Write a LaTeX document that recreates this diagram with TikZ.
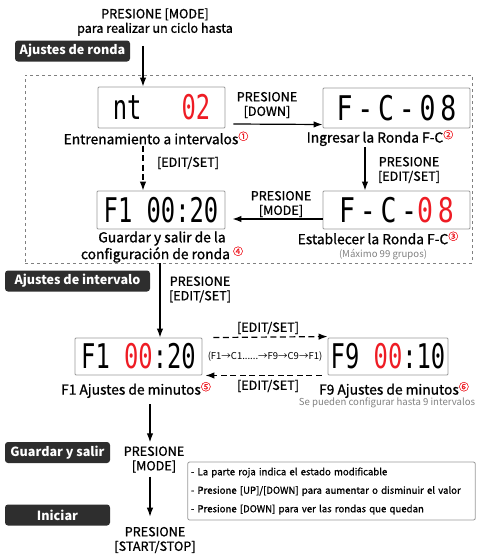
\documentclass[tikz,border=0pt]{standalone}
\usepackage{fontspec}
\setmainfont{Noto Sans CJK SC}
\newfontfamily\medfont[FakeBold=1]{Noto Sans CJK SC}
\newfontfamily\lcd[FakeStretch=0.7]{DejaVu Sans Mono}
\newfontfamily\lcdwide[FakeStretch=0.78,LetterSpace=14]{DejaVu Sans Mono}
\usepackage{tikz}
\usetikzlibrary{positioning,arrows.meta}

\definecolor{lcdred}{HTML}{EE1C24}
\definecolor{tagbg}{HTML}{2E2E2E}
\newcommand{\num}[1]{\textcolor{lcdred}{\raisebox{0.55ex}{\fontsize{10}{10}\selectfont #1}}}
\newcommand{\rd}[1]{\textcolor{lcdred}{#1}}

\tikzset{
  lbl/.style={font=\fontsize{13.8}{15}\selectfont\medfont, align=center, inner sep=1pt},
  press/.style={font=\fontsize{12.6}{14.5}\selectfont\medfont, align=center, inner sep=1pt},
  tag/.style={fill=tagbg, text=white, rounded corners=3pt, font=\fontsize{12.6}{14}\selectfont\bfseries, inner xsep=4pt, minimum height=21pt},
  lcdbox/.style={draw=gray!80, line width=0.9pt, rounded corners=1pt, inner sep=2pt},
  small/.style={font=\fontsize{9.6}{10}\selectfont, text=gray, inner sep=1pt},
  arr/.style={-{Latex[length=9pt,width=6.5pt]}, line width=1.2pt},
  darr/.style={arr, dash pattern=on 6pt off 3.5pt},
}

\begin{document}
\begin{tikzpicture}[x=1pt, y=-1pt]
\useasboundingbox (0,0) rectangle (481,554);
% round settings
\node[press] (top) at (155,22) {PRESIONE [MODE]\\para realizar un ciclo hasta};
\node[tag, minimum width=115pt] (ronda) at (72.5,51) {Ajustes de ronda};
\node[draw=gray, dashed, line width=0.7pt, minimum width=447pt, minimum height=188pt] (grp) at (248.5,169) {};

\node[lcdbox, minimum width=127pt, minimum height=41pt] (d1) at (161.5,107.5) {\fontsize{34}{34}\lcd nt\hspace{40pt}\rd{02}};
\node[lcdbox, minimum width=147pt, minimum height=40pt] (d2) at (396.5,108) {\fontsize{34}{34}\lcdwide F-C-08};
\node[lcdbox, minimum width=128pt, minimum height=38pt] (d3) at (161,210) {\fontsize{34}{34}\lcd F1 00:20};
\node[lcdbox, minimum width=147pt, minimum height=38pt] (d4) at (396.5,210) {\fontsize{34}{34}\lcdwide F-C-\rd{08}};

\node[lbl] (lab1) at (156,138) {Entrenamiento a intervalos\num{①}};
\node[lbl] (lab2) at (380,138) {Ingresar la Ronda F-C\num{②}};
\node[lbl] (lab3) at (378,238) {Establecer la Ronda F-C\num{③}};
\node[lbl] (lab4) at (162,247) {Guardar y salir de la\\configuración de ronda \num{④}};
\node[small] (max99) at (383,255) {(Máximo 99 grupos)};

\node[press] (pdown) at (267,105) {PRESIONE\\{}[DOWN]};
\node[press] (edit1) at (188,163) {[EDIT/SET]};
\node[press] (pedit) at (409,170) {PRESIONE\\{}[EDIT/SET]};
\node[press] (pmode) at (281,204) {PRESIONE\\{}[MODE]};

\coordinate (c1) at (143,0);
\coordinate (c2) at (365,0);
\draw[arr] (top.south -| c1) ++(0,9) -- (d1.north -| c1);
\draw[arr] ([xshift=8pt,yshift=-16.5pt]d1.east) -- ([yshift=-16.5pt]d2.west);
\draw[darr] (lab1.south -| c1) -- (d3.north -| c1);
\draw[arr] (lab2.south -| c2) -- (d4.north -| c2);
\draw[arr] ([yshift=-9pt]d4.west) -- ([xshift=7pt,yshift=-9pt]d3.east);

% interval settings
\node[tag, minimum width=145pt] (intv) at (77.5,281) {Ajustes de intervalo};
\node[press] (pedit2) at (200,289.5) {PRESIONE\\{}[EDIT/SET]};

\node[lcdbox, minimum width=127pt, minimum height=37pt] (d5) at (138.5,356.5) {\fontsize{34}{34}\lcd F1 \rd{00}:20};
\node[lcdbox, minimum width=120pt, minimum height=37pt] (d6) at (388,356.5) {\fontsize{34}{34}\lcd F9 \rd{00}:10};

\node[press] (edit2) at (268,328) {[EDIT/SET]};
\node[font=\fontsize{9.5}{10}\selectfont, inner sep=1pt] (cyc) at (265,357) {(F1→C1......→F9→C9→F1)};
\node[press] (edit3) at (268,386) {[EDIT/SET]};
\node[lbl] (lab5) at (136,390) {F1 Ajustes de minutos\num{⑤}};
\node[lbl] (lab6) at (394,390) {F9 Ajustes de minutos\num{⑥}};
\node[small] (se9) at (387,403) {Se pueden configurar hasta 9 intervalos};

\coordinate (c3) at (160,0);
\draw[arr] (grp.south -| c3) -- (d5.north -| c3);
\draw[darr] ([xshift=11pt]d5.north east) -- ([yshift=1pt]d6.north west);
\draw[darr] ([xshift=-6pt]d6.south west) -- ([xshift=3pt]d5.south east);

% save and start
\node[tag, minimum width=105pt] (save) at (57.5,452.5) {Guardar y salir};
\node[press] (pmode2) at (154,459.5) {PRESIONE\\{}[MODE]};
\node[tag, minimum width=105pt] (start) at (57.5,515) {Iniciar};
\node[press] (pstart) at (155,540) {PRESIONE\\{}[START/STOP]};

\coordinate (c4) at (150,0);
\draw[arr] (lab5.south -| c4) ++(0,5) -- ([yshift=3pt]pmode2.north -| c4);
\draw[arr] (pmode2.south -| c4) ++(0,3) -- ([yshift=9pt]pstart.north -| c4);

\node[draw=gray!80, line width=0.8pt, rounded corners=2pt, minimum width=287pt, minimum height=58pt, align=left, font=\fontsize{9.6}{18.5}\selectfont\medfont, text width=281pt] (note) at (331.5,491)
  {- La parte roja indica el estado modificable\\- Presione [UP]/[DOWN] para aumentar o disminuir el valor\\- Presione [DOWN] para ver las rondas que quedan};
\end{tikzpicture}
\end{document}
